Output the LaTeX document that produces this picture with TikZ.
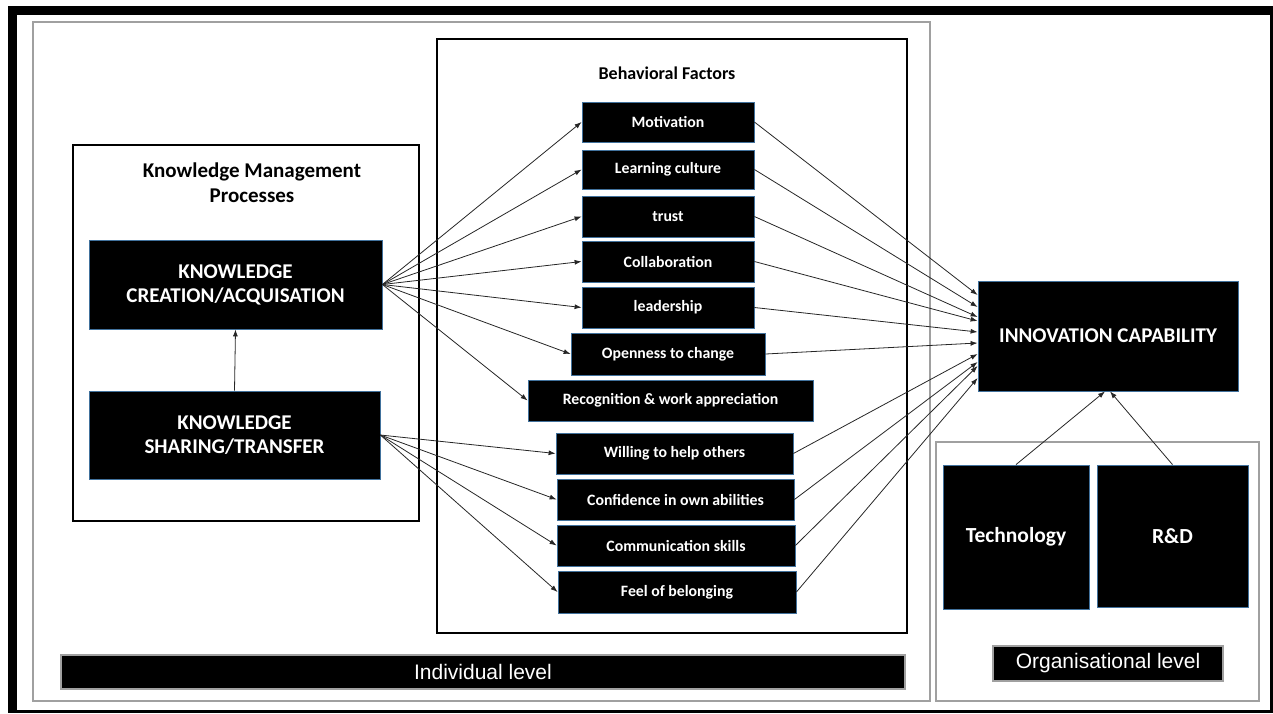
\documentclass[tikz,border=0pt]{standalone}
\usepackage{fontspec}
\setmainfont{Carlito}
\newfontfamily\arialfont{Liberation Sans}
\usepackage{tikz}
\usetikzlibrary{arrows.meta, calc, positioning}

\definecolor{boxedge}{HTML}{41719C}
\definecolor{levelgray}{HTML}{A0A0A0}

\begin{document}
\begin{tikzpicture}[
  x=1pt, y=-1pt,
  >={Latex[length=7pt,width=5pt]},
  blk/.style={draw=boxedge, line width=0.8pt, fill=black, text=white, inner sep=0pt, align=center, font=\bfseries},
  factor/.style={blk, minimum height=41pt, font=\bfseries\fontsize{15.8}{18}\selectfont},
  level/.style={draw=levelgray, line width=1.2pt, fill=black, text=white, inner sep=0pt, font=\arialfont\fontsize{21}{24}\selectfont},
  frame/.style={draw=levelgray, line width=2.2pt},
  inbox/.style={draw, line width=1.6pt},
  link/.style={->, line width=0.8pt, draw=black!85},
  ttl/.style={font=\bfseries\fontsize{21}{25}\selectfont, align=center},
]
\useasboundingbox (0,0) rectangle (1273,713);

% outer border (heavy top/left edge)
\fill (8,6) rectangle (1273,15);
\fill (8,6) rectangle (17,713);
\draw[line width=3pt] (1271.5,6) -- (1271.5,713);
\draw[line width=3pt] (8,711.5) -- (1273,711.5);

% level frames
\draw[frame] (33,22) rectangle (930,701);
\draw[frame] (936,442) rectangle (1259,701);

% grouping boxes
\draw[inbox] (73,145) rectangle (419,521);
\draw[inbox] (437,39) rectangle (907,633);

\node[ttl] (kmtitle) at (252,183) {Knowledge Management\\Processes};
\node[ttl, font=\bfseries\fontsize{18}{21}\selectfont] (bftitle) at (667,73) {Behavioral Factors};

% knowledge processes
\node[blk, minimum width=293pt, minimum height=89pt, font=\bfseries\fontsize{21}{24}\selectfont] (kc) at (235.5,284.5) {KNOWLEDGE\\CREATION/ACQUISATION};
\node[blk, minimum width=291pt, minimum height=88pt, font=\bfseries\fontsize{21}{24}\selectfont] (ks) at (234.5,435) {KNOWLEDGE\\SHARING/TRANSFER};

% behavioral factors
\node[factor, minimum width=172pt, minimum height=40pt] (mot) at (668,122) {Motivation};
\node[factor, minimum width=172pt, minimum height=39pt] (lrn) at (668,169.5) {Learning culture};
\node[factor, minimum width=172pt] (tru) at (668,216.5) {trust};
\node[factor, minimum width=172pt] (col) at (668,261.5) {Collaboration};
\node[factor, minimum width=172pt] (lea) at (668,307.5) {leadership};
\node[factor, minimum width=194pt, minimum height=42pt] (opn) at (668,354) {Openness to change};
\node[factor, minimum width=285pt] (rec) at (670.5,400.5) {Recognition \& work appreciation};
\node[factor, minimum width=237pt] (wil) at (674.5,453.5) {Willing to help others};
\node[factor, minimum width=237pt] (con) at (675.5,499.5) {Confidence in own abilities};
\node[factor, minimum width=238pt] (com) at (676,545.5) {Communication skills};
\node[factor, minimum width=238pt, minimum height=42pt] (bel) at (677,592) {Feel of belonging};

% outcome and organisational factors
\node[blk, minimum width=260pt, minimum height=110pt, font=\bfseries\fontsize{21}{24}\selectfont] (ic) at (1108,336) {INNOVATION CAPABILITY};
\node[blk, minimum width=146pt, minimum height=144pt, font=\bfseries\fontsize{21.5}{24}\selectfont] (tec) at (1016,537) {Technology};
\node[blk, minimum width=151pt, minimum height=142pt, font=\bfseries\fontsize{21.5}{24}\selectfont] (rnd) at (1172.5,536) {R\&D};

% level labels
\node[level, minimum width=844pt, minimum height=34pt] (indiv) at (483,672) {Individual level};
\node[level, minimum width=230pt, minimum height=35pt] (org) at (1108,663.5) {Organisational level};

% creation -> factors
\draw[link] (ks.north) -- (kc.south);
\draw[link] (kc.east) -- (mot.west);
\draw[link] (kc.east) -- (lrn.west);
\draw[link] (kc.east) -- (tru.west);
\draw[link] (kc.east) -- (col.west);
\draw[link] (kc.east) -- (lea.west);
\draw[link] (kc.east) -- (opn.west);
\draw[link] (kc.east) -- (rec.west);

% sharing -> factors
\draw[link] (ks.east) -- (wil.west);
\draw[link] (ks.east) -- (con.west);
\draw[link] (ks.east) -- (com.west);
\draw[link] (ks.east) -- (bel.west);

% factors -> innovation capability
\draw[link] (mot.east) -- ([yshift=41pt]ic.west);
\draw[link] (lrn.east) -- ([yshift=29pt]ic.west);
\draw[link] (tru.east) -- ([yshift=19pt]ic.west);
\draw[link] (col.east) -- ([yshift=15pt]ic.west);
\draw[link] (lea.east) -- ([yshift=4pt]ic.west);
\draw[link] (opn.east) -- ([yshift=-7pt]ic.west);
\draw[link] (wil.east) -- ([yshift=-18pt]ic.west);
\draw[link] (con.east) -- ([yshift=-26pt]ic.west);
\draw[link] (com.east) -- ([yshift=-30pt]ic.west);
\draw[link] (bel.east) -- ([yshift=-42pt]ic.west);

% organisational -> innovation capability
\draw[link] (tec.north) -- ([xshift=-3pt]ic.south);
\draw[link] (rnd.north) -- ([xshift=2pt]ic.south);

\end{tikzpicture}
\end{document}
